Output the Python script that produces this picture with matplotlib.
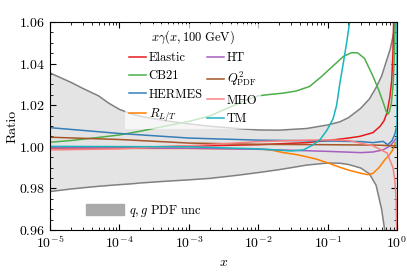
import matplotlib
matplotlib.use("Agg")
import matplotlib.pyplot as plt
from matplotlib.patches import Patch
from matplotlib.ticker import LogLocator, MultipleLocator, NullFormatter

plt.rcParams['font.family'] = 'serif'
plt.rcParams['font.serif'] = ['cmr10']
plt.rcParams['mathtext.fontset'] = 'cm'
plt.rcParams['axes.formatter.use_mathtext'] = True
plt.rcParams['axes.unicode_minus'] = False

# q,g PDF uncertainty band
band_x = [1e-5, 2e-5, 3e-5, 5e-5, 7e-5, 1e-4, 1.5e-4, 2e-4, 3e-4, 5e-4, 1e-3,
          2e-3, 5e-3, 1e-2, 2e-2, 5e-2, 0.1, 0.15, 0.2, 0.3, 0.4, 0.5, 0.6,
          0.7, 0.8, 0.9, 0.95, 0.999]
band_up = [1.0355, 1.031, 1.028, 1.0245, 1.021, 1.018, 1.0158, 1.0147, 1.0136,
           1.0124, 1.011, 1.0099, 1.0088, 1.0081, 1.008, 1.0088, 1.0105, 1.012,
           1.014, 1.0185, 1.023, 1.0285, 1.034, 1.041, 1.047, 1.055, 1.062, 1.10]
band_lo = [0.9785, 0.9797, 0.9803, 0.9810, 0.9814, 0.9818, 0.9822, 0.9826,
           0.983, 0.9835, 0.9841, 0.9848, 0.9863, 0.9876, 0.989, 0.9912, 0.9922,
           0.9921, 0.9915, 0.9898, 0.987, 0.9815, 0.970, 0.955, 0.94, 0.93,
           0.92, 0.90]

# ratio curves
el_x = [1e-5, 1e-4, 1e-3, 1e-2, 0.05, 0.1, 0.2, 0.29, 0.45, 0.57, 0.65, 0.72,
        0.79, 0.84, 0.875, 0.9]
el_y = [0.9995, 0.9997, 1.0003, 1.001, 1.002, 1.003, 1.0042, 1.005, 1.0068,
        1.0098, 1.0125, 1.0165, 1.024, 1.032, 1.045, 1.065]

cb_x = [1e-5, 2e-5, 5e-5, 1e-4, 2e-4, 5e-4, 1e-3, 2e-3, 4e-3, 7e-3, 1e-2,
        1.5e-2, 2.3e-2, 3.5e-2, 5.5e-2, 8e-2, 0.12, 0.17, 0.22, 0.27, 0.34,
        0.45, 0.55, 0.63, 0.7, 0.74, 0.78, 0.83, 0.88, 0.92, 0.95]
cb_y = [1.0022, 1.003, 1.0045, 1.0057, 1.0075, 1.0102, 1.0122, 1.0148, 1.0192,
        1.0228, 1.0245, 1.0252, 1.0258, 1.0268, 1.029, 1.0335, 1.0389, 1.0435,
        1.0452, 1.0452, 1.0425, 1.034, 1.027, 1.0215, 1.017, 1.0156, 1.017,
        1.021, 1.03, 1.045, 1.065]

he_x = [1e-5, 1e-4, 1e-3, 1e-2, 0.1, 0.3, 0.45, 0.63, 0.74, 0.85, 0.93, 0.99]
he_y = [1.0092, 1.0064, 1.0042, 1.0032, 1.0028, 1.0025, 1.002, 1.0026, 1.001,
        1.003, 1.006, 1.01]

rl_x = [1e-5, 1e-3, 1e-2, 0.015, 0.023, 0.035, 0.05, 0.07, 0.1, 0.14, 0.2,
        0.29, 0.38, 0.45, 0.55, 0.67, 0.78, 0.87, 0.95]
rl_y = [0.9993, 0.9992, 0.999, 0.9985, 0.9972, 0.9963, 0.9952, 0.994, 0.9923,
        0.9905, 0.9888, 0.9874, 0.9866, 0.9872, 0.990, 0.9938, 0.9962, 0.9986,
        1.002]

ht_x = [1e-5, 1e-3, 1e-2, 0.1, 0.3, 0.45, 0.63, 0.8, 0.9, 0.97]
ht_y = [0.9995, 0.9993, 0.9988, 0.9978, 0.9972, 0.9975, 0.9985, 1.0005, 1.0025,
        1.004]

q2_x = [1e-5, 1e-4, 1e-3, 1e-2, 0.1, 0.5, 0.9, 0.999]
q2_y = [1.0046, 1.0035, 1.0018, 1.0012, 1.001, 1.0008, 1.0005, 1.0005]

mh_x = [1e-5, 1e-4, 1e-3, 1e-2, 0.05, 0.1, 0.2, 0.45, 0.72, 0.875, 0.93, 0.97,
        0.99, 0.999]
mh_y = [0.9985, 0.999, 1.0005, 1.0025, 1.0032, 1.0033, 1.003, 1.0005, 0.997,
        0.990, 0.984, 0.975, 0.962, 0.95]

tm_x = [1e-5, 1e-3, 1e-2, 0.03, 0.045, 0.062, 0.078, 0.098, 0.12, 0.135, 0.151,
        0.17, 0.19, 0.21, 0.3, 0.99, 0.9999]
tm_y = [1.0002, 1.0, 0.999, 0.998, 0.9985, 1.001, 1.0035, 1.008, 1.0135, 1.02,
        1.031, 1.041, 1.051, 1.061, 1.12, 1.5, 1.0]

fig = plt.figure(figsize=(4.07, 2.77), dpi=100)
ax = fig.add_axes([0.1229, 0.1697, 0.8525, 0.7509])

ax.fill_between(band_x, band_lo, band_up, color='#e4e4e4', lw=0)
ax.plot(band_x, band_up, color='#808080', lw=1.1)
ax.plot(band_x, band_lo, color='#808080', lw=1.1)

lw = 1.1
ax.plot(el_x, el_y, color='#e41a1c', lw=lw, label='Elastic')
ax.plot(cb_x, cb_y, color='#4daf4a', lw=lw, label='CB21')
ax.plot(he_x, he_y, color='#377eb8', lw=lw, label='HERMES')
ax.plot(rl_x, rl_y, color='#ff7f00', lw=lw, label=r'$R_{L/T}$')
ax.plot(ht_x, ht_y, color='#a65fbf', lw=lw, label='HT')
ax.plot(q2_x, q2_y, color='#a65628', lw=lw, label=r'$Q^2_{\mathrm{PDF}}$')
ax.plot(mh_x, mh_y, color='#fa8080', lw=lw, label='MHO')
ax.plot(tm_x, tm_y, color='#17b5bf', lw=lw, label='TM')

ax.set_xscale('log')
ax.set_xlim(1e-5, 1)
ax.set_ylim(0.96, 1.06)
ax.yaxis.set_major_locator(MultipleLocator(0.02))
ax.yaxis.set_minor_locator(MultipleLocator(0.005))
ax.xaxis.set_major_locator(LogLocator(base=10, numticks=10))
ax.xaxis.set_minor_locator(LogLocator(base=10, subs=range(2, 10), numticks=20))
ax.xaxis.set_minor_formatter(NullFormatter())
ax.tick_params(which='both', direction='in', top=True, right=True, labelsize=10)
ax.tick_params(which='major', length=4)
ax.tick_params(which='minor', length=2)
ax.set_xlabel(r'$x$', fontsize=10)
ax.set_ylabel('Ratio', fontsize=10)
ax.yaxis.set_label_coords(-0.09, 0.5)

leg1 = ax.legend(ncol=2, loc='upper left', bbox_to_anchor=(0.216, 0.99),
                 title=r'$x\gamma(x, 100\ \mathrm{GeV})$', fontsize=9,
                 title_fontsize=9, frameon=True, fancybox=False,
                 handlelength=1.4, handletextpad=0.2, columnspacing=0.3,
                 labelspacing=0.5, borderpad=0.3, borderaxespad=0)
leg1.get_frame().set_facecolor('white')
leg1.get_frame().set_alpha(0.7)
leg1.get_frame().set_linewidth(0)
ax.add_artist(leg1)

ax.legend(handles=[Patch(color='#aaaaaa')], labels=[r'$q, g$ PDF unc'],
          loc='lower left', bbox_to_anchor=(0.09, 0.03), fontsize=9,
          frameon=False, handlelength=3.0, handleheight=0.9,
          handletextpad=0.4, borderaxespad=0)

fig.savefig('out.png', dpi=100)
